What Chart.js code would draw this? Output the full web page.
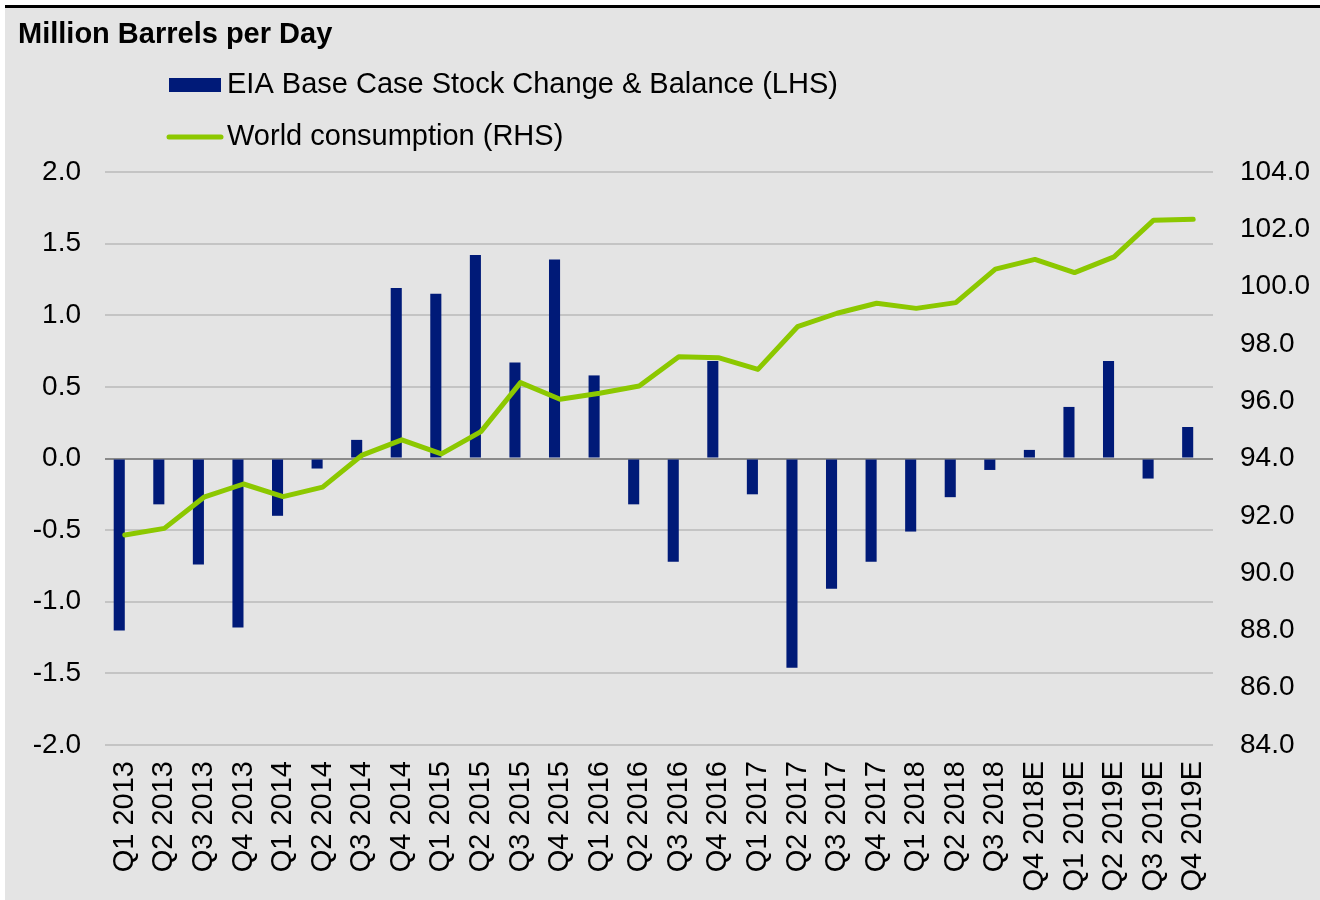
<!DOCTYPE html>
<html>
<head>
<meta charset="utf-8">
<script src="https://cdn.jsdelivr.net/npm/chart.js@4"></script>
<style>
  html, body { margin: 0; padding: 0; background: #ffffff; }
  #wrap { position: relative; width: 1320px; height: 900px; }
</style>
</head>
<body>
<div id="wrap"><canvas id="oilChart" width="1320" height="900"></canvas></div>
<script>
// chart data
var quarters = ["Q1 2013", "Q2 2013", "Q3 2013", "Q4 2013", "Q1 2014", "Q2 2014", "Q3 2014", "Q4 2014",
                "Q1 2015", "Q2 2015", "Q3 2015", "Q4 2015", "Q1 2016", "Q2 2016", "Q3 2016", "Q4 2016",
                "Q1 2017", "Q2 2017", "Q3 2017", "Q4 2017", "Q1 2018", "Q2 2018", "Q3 2018", "Q4 2018E",
                "Q1 2019E", "Q2 2019E", "Q3 2019E", "Q4 2019E"];

var stockChange = [-1.20, -0.32, -0.74, -1.18, -0.40, -0.07, 0.13, 1.19,
                   1.15, 1.42, 0.67, 1.39, 0.58, -0.32, -0.72, 0.68,
                   -0.25, -1.46, -0.91, -0.72, -0.51, -0.27, -0.08, 0.06,
                   0.36, 0.68, -0.14, 0.22];

var worldConsumption = [91.33, 91.56, 92.65, 93.11, 92.67, 93.00, 94.12, 94.65,
                        94.16, 94.94, 96.65, 96.07, 96.28, 96.53, 97.55, 97.52,
                        97.11, 98.60, 99.07, 99.42, 99.24, 99.44, 100.61, 100.95,
                        100.49, 101.04, 102.32, 102.35];

var leftTicks = [-2.0, -1.5, -1.0, -0.5, 0.0, 0.5, 1.0, 1.5, 2.0];
var rightTicks = [84, 86, 88, 90, 92, 94, 96, 98, 100, 102, 104];

var titleText = "Million Barrels per Day";
var barLabel = "EIA Base Case Stock Change & Balance (LHS)";
var lineLabel = "World consumption (RHS)";

var FONT = "'Liberation Sans', Arial, sans-serif";
var BAR_COLOR = "#001a78";
var LINE_COLOR = "#8cc800";

// frame, title and legend drawn on the canvas
var framePlugin = {
    id: "frame",
    beforeDraw: function(chart) {
        var ctx = chart.ctx;
        ctx.save();
        ctx.fillStyle = "#e4e4e4";
        ctx.fillRect(5, 7, 1315, 893);
        ctx.fillStyle = "#000000";
        ctx.fillRect(5, 5, 1315, 3);
        ctx.restore();
    },
    afterDraw: function(chart) {
        var ctx = chart.ctx;
        ctx.save();
        ctx.fillStyle = "#000000";
        ctx.textBaseline = "middle";
        ctx.textAlign = "left";
        ctx.font = "bold 29px " + FONT;
        ctx.fillText(titleText, 18, 35);

        // legend
        ctx.font = "29px " + FONT;
        ctx.fillStyle = BAR_COLOR;
        ctx.fillRect(169, 78, 52, 14);
        ctx.fillStyle = "#000000";
        ctx.fillText(barLabel, 227, 85);

        ctx.strokeStyle = LINE_COLOR;
        ctx.lineWidth = 5;
        ctx.lineCap = "round";
        ctx.beginPath();
        ctx.moveTo(169, 137);
        ctx.lineTo(221, 137);
        ctx.stroke();
        ctx.fillText(lineLabel, 227, 137);
        ctx.restore();
    }
};

var ctx = document.getElementById("oilChart").getContext("2d");

var oilChart = new Chart(ctx, {
    data: {
        labels: quarters,
        datasets: [{
            type: "line",
            label: lineLabel,
            data: worldConsumption,
            yAxisID: "yRight",
            borderColor: LINE_COLOR,
            borderWidth: 5,
            borderCapStyle: "round",
            borderJoinStyle: "round",
            pointRadius: 0,
            tension: 0,
            order: 0
        }, {
            type: "bar",
            label: barLabel,
            data: stockChange,
            yAxisID: "yLeft",
            backgroundColor: BAR_COLOR,
            barPercentage: 1.0,
            categoryPercentage: 0.56,
            order: 1
        }, {
            // empty second bar series, keeps the bars left of the category centre
            type: "bar",
            label: "",
            data: quarters.map(function() { return null; }),
            yAxisID: "yLeft",
            backgroundColor: "rgba(0,0,0,0)",
            barPercentage: 1.0,
            categoryPercentage: 0.56,
            order: 2
        }]
    },
    options: {
        responsive: false,
        animation: false,
        layout: { padding: { top: 172, bottom: 0, left: 0, right: 0 } },
        plugins: {
            legend: { display: false },
            tooltip: { enabled: false }
        },
        scales: {
            x: {
                grid: { display: false, drawTicks: false },
                border: { display: false },
                ticks: {
                    color: "#000000",
                    font: { family: FONT, size: 29 },
                    minRotation: 90,
                    maxRotation: 90,
                    autoSkip: false,
                    padding: 16
                },
                afterFit: function(scale) { scale.height = 155; }
            },
            yLeft: {
                position: "left",
                min: -2,
                max: 2,
                afterBuildTicks: function(scale) {
                    scale.ticks = leftTicks.map(function(v) { return { value: v }; });
                },
                ticks: {
                    color: "#000000",
                    font: { family: FONT, size: 28 },
                    padding: 24,
                    callback: function(v) { return Number(v).toFixed(1); }
                },
                grid: {
                    drawTicks: false,
                    lineWidth: 2,
                    color: function(c) { return c.tick && c.tick.value === 0 ? "#8a8a8a" : "#c4c4c4"; }
                },
                border: { display: false },
                afterFit: function(scale) { scale.width = 105; }
            },
            yRight: {
                position: "right",
                min: 84,
                max: 104,
                afterBuildTicks: function(scale) {
                    scale.ticks = rightTicks.map(function(v) { return { value: v }; });
                },
                ticks: {
                    color: "#000000",
                    font: { family: FONT, size: 28 },
                    padding: 27,
                    callback: function(v) { return Number(v).toFixed(1); }
                },
                grid: { display: false, drawTicks: false },
                border: { display: false },
                afterFit: function(scale) { scale.width = 107; }
            }
        }
    },
    plugins: [framePlugin]
});
</script>
</body>
</html>
